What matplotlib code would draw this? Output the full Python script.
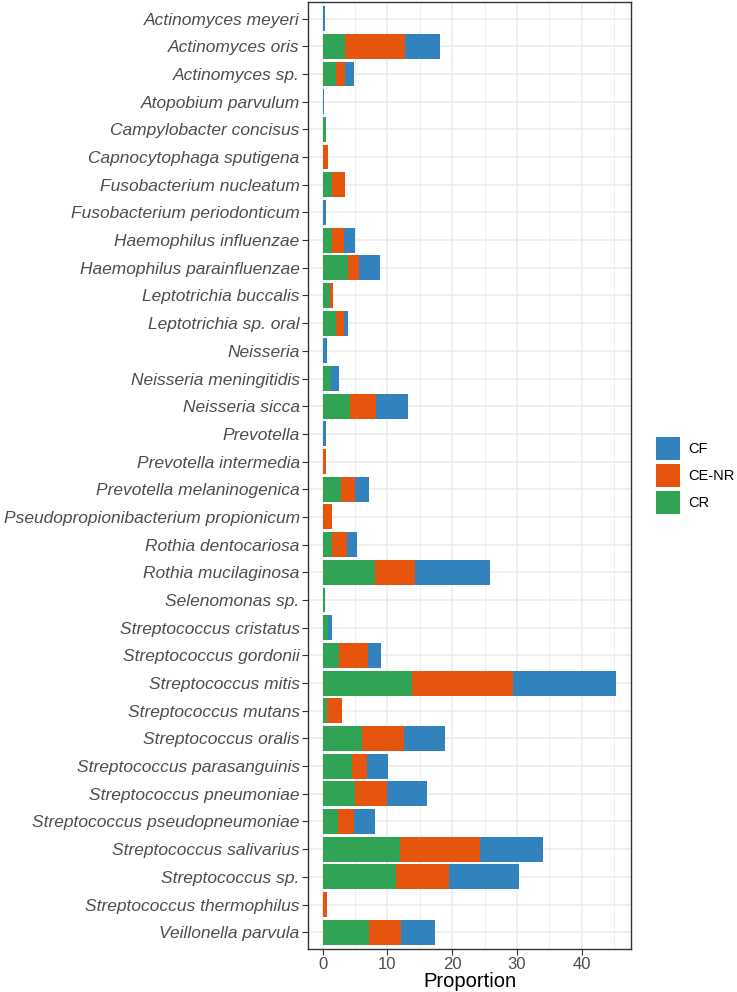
import numpy as np
import matplotlib
matplotlib.use('Agg')
import matplotlib.pyplot as plt

# species (top to bottom) and stacked proportions
species = [
    'Actinomyces meyeri', 'Actinomyces oris', 'Actinomyces sp.', 'Atopobium parvulum',
    'Campylobacter concisus', 'Capnocytophaga sputigena', 'Fusobacterium nucleatum',
    'Fusobacterium periodonticum', 'Haemophilus influenzae', 'Haemophilus parainfluenzae',
    'Leptotrichia buccalis', 'Leptotrichia sp. oral', 'Neisseria', 'Neisseria meningitidis',
    'Neisseria sicca', 'Prevotella', 'Prevotella intermedia', 'Prevotella melaninogenica',
    'Pseudopropionibacterium propionicum', 'Rothia dentocariosa', 'Rothia mucilaginosa',
    'Selenomonas sp.', 'Streptococcus cristatus', 'Streptococcus gordonii',
    'Streptococcus mitis', 'Streptococcus mutans', 'Streptococcus oralis',
    'Streptococcus parasanguinis', 'Streptococcus pneumoniae',
    'Streptococcus pseudopneumoniae', 'Streptococcus salivarius', 'Streptococcus sp.',
    'Streptococcus thermophilus', 'Veillonella parvula',
]
cr = [0, 3.5, 2.0, 0, 0.46, 0, 1.44, 0, 1.44, 3.96,
      1.08, 2.06, 0, 1.24, 4.17, 0, 0, 2.78, 0, 1.44,
      8.13, 0.41, 0.77, 2.57, 13.74, 0.72, 6.12, 4.48, 4.99, 2.32,
      11.94, 11.27, 0, 7.15]
ce_nr = [0, 9.16, 1.45, 0, 0, 0.82, 1.96, 0, 1.80, 1.65,
         0.46, 1.18, 0, 0, 4.01, 0, 0.51, 2.21, 1.44, 2.37,
         6.18, 0, 0, 4.38, 15.65, 2.27, 6.49, 2.37, 4.99, 2.47,
         12.30, 8.29, 0.72, 4.94]
cf = [0.41, 5.40, 1.39, 0.15, 0, 0, 0, 0.51, 1.70, 3.29,
      0, 0.72, 0.62, 1.23, 4.94, 0.51, 0, 2.16, 0, 1.44,
      11.53, 0, 0.67, 2.11, 15.95, 0, 6.23, 3.24, 6.13, 3.24,
      9.78, 10.75, 0, 5.31]

colors = {'CF': '#3182BD', 'CE-NR': '#E6550D', 'CR': '#31A354'}

plt.rcParams['font.family'] = ['Liberation Sans', 'DejaVu Sans']

fig = plt.figure(figsize=(7.37, 9.92), dpi=100)
ax = fig.add_axes([0.418, 0.0435, 0.438, 0.9545])

y = np.arange(len(species))[::-1]
cr = np.array(cr)
ce_nr = np.array(ce_nr)
cf = np.array(cf)

ax.barh(y, cr, height=0.9, color=colors['CR'], label='CR', zorder=3)
ax.barh(y, ce_nr, left=cr, height=0.9, color=colors['CE-NR'], label='CE-NR', zorder=3)
ax.barh(y, cf, left=cr + ce_nr, height=0.9, color=colors['CF'], label='CF', zorder=3)

total_max = (cr + ce_nr + cf).max()
ax.set_xlim(-0.05 * total_max, 1.05 * total_max)
ax.set_ylim(-0.6, len(species) - 0.4)

ax.set_yticks(y)
ax.set_yticklabels(species, fontstyle='italic', fontsize=12.5, color='#4D4D4D')
ax.set_xticks([0, 10, 20, 30, 40])
ax.set_xticks([5, 15, 25, 35, 45], minor=True)
ax.tick_params(axis='x', labelsize=12, labelcolor='#4D4D4D', color='#333333', length=4, pad=2)
ax.tick_params(axis='y', color='#333333', length=4, pad=2)
ax.tick_params(axis='x', which='minor', length=0)

ax.grid(True, which='major', color='#EBEBEB', linewidth=1.1, zorder=0)
ax.grid(True, which='minor', axis='x', color='#EBEBEB', linewidth=0.6, zorder=0)
ax.set_axisbelow(True)
for s in ax.spines.values():
    s.set_color('#333333')
    s.set_linewidth(1.0)

ax.set_xlabel('Proportion', fontsize=14.5, labelpad=0)

handles, labels = ax.get_legend_handles_labels()
order = [2, 1, 0]
leg = ax.legend([handles[i] for i in order], [labels[i] for i in order],
                loc='center left', bbox_to_anchor=(1.045, 0.5), frameon=False,
                fontsize=10.5, handlelength=1.65, handleheight=2.0, handletextpad=0.6,
                labelspacing=0.3, borderpad=0.2)

fig.savefig('out.png', dpi=100)
